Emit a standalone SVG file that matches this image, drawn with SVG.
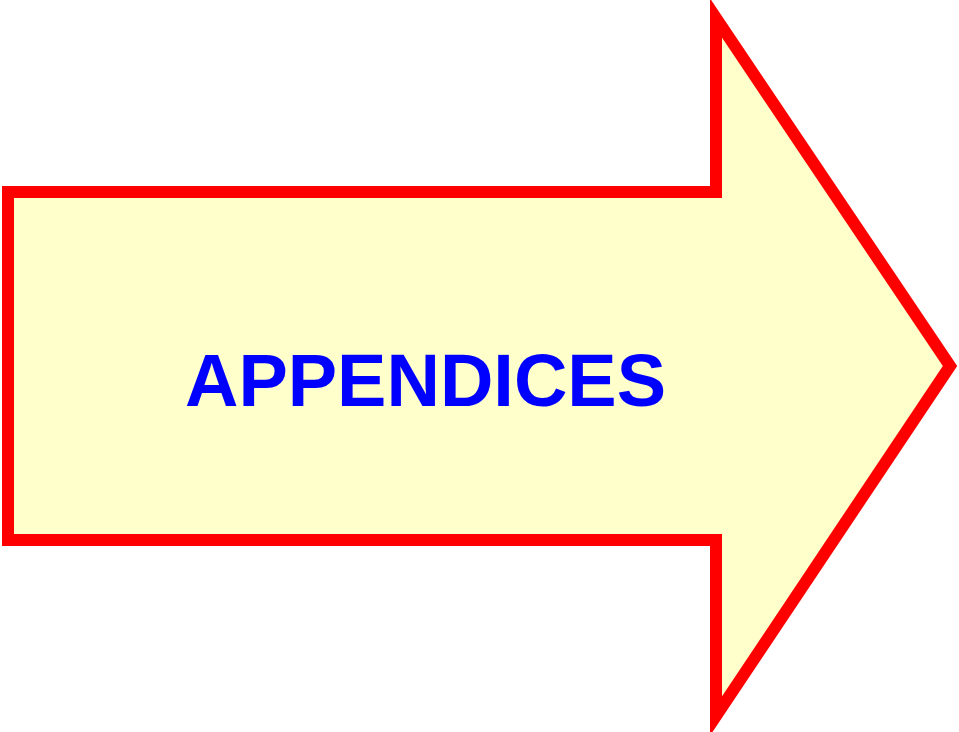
<svg xmlns="http://www.w3.org/2000/svg" width="959" height="732" viewBox="0 0 959 732">
<style>
.arrow{fill:#FFFFCC;stroke:#FF0000;stroke-width:12;stroke-linejoin:miter;stroke-miterlimit:10}
.label{font-family:"Liberation Sans",Arial,sans-serif;font-weight:bold;font-size:74px;fill:#0000FF}
</style>
<g id="arrow">
<polygon class="arrow" points="8,192 716,192 716,18 950,366 716,716 716,540 8,540"/>
<text class="label" x="425.5" y="406" text-anchor="middle">APPENDICES</text>
</g>
</svg>
